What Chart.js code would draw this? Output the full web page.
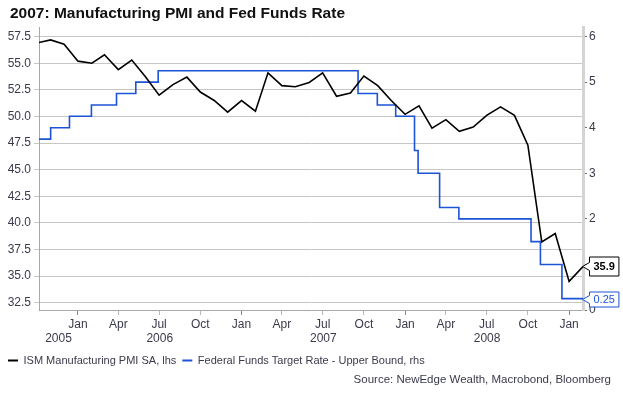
<!DOCTYPE html>
<html>
<head>
<meta charset="utf-8">
<title>Manufacturing PMI and Fed Funds Rate</title>
<script src="https://cdn.jsdelivr.net/npm/chart.js@4.4.1/dist/chart.umd.min.js"></script>
<style>
  html, body { margin: 0; padding: 0; background: #fff; }
  #wrap { width: 623px; height: 395px; position: relative; }
</style>
</head>
<body>
<div id="wrap"><canvas id="pmiChart"></canvas></div>
<script>
// ISM Manufacturing PMI, monthly
var pmiMonths = [
    '2005-10', '2005-11', '2005-12',
    '2006-01', '2006-02', '2006-03', '2006-04', '2006-05', '2006-06',
    '2006-07', '2006-08', '2006-09', '2006-10', '2006-11', '2006-12',
    '2007-01', '2007-02', '2007-03', '2007-04', '2007-05', '2007-06',
    '2007-07', '2007-08', '2007-09', '2007-10', '2007-11', '2007-12',
    '2008-01', '2008-02', '2008-03', '2008-04', '2008-05', '2008-06',
    '2008-07', '2008-08', '2008-09', '2008-10', '2008-11', '2008-12',
    '2009-01', '2009-02'
];
var pmiValues = [
    56.9, 57.2, 56.8,
    55.2, 55.0, 55.8, 54.4, 55.3, 53.7,
    52.0, 53.0, 53.7, 52.3, 51.5, 50.4,
    51.5, 50.5, 54.1, 52.9, 52.8, 53.2,
    54.1, 51.9, 52.2, 53.8, 52.9, 51.5,
    50.2, 51.0, 48.9, 49.7, 48.6, 49.0,
    50.1, 50.9, 50.1, 47.3, 38.2, 39.0,
    34.5, 35.9
];

// Fed funds target rate (upper bound), date of each change
var fedDates = [
    '2005-09-20', '2005-11-01', '2005-12-13', '2006-01-31', '2006-03-28',
    '2006-05-10', '2006-06-29', '2007-09-18', '2007-10-31', '2007-12-11',
    '2008-01-22', '2008-01-30', '2008-03-18', '2008-04-30', '2008-10-08',
    '2008-10-29', '2008-12-16', '2009-02-01'
];
var fedRates = [
    3.75, 4.0, 4.25, 4.5, 4.75,
    5.0, 5.25, 4.75, 4.5, 4.25,
    3.5, 3.0, 2.25, 2.0, 1.5,
    1.0, 0.25, 0.25
];

// axes
var xStart = '2005-10-06';
var xEnd = '2009-02-01';
var quarterTicks = [
    '2006-01', '2006-04', '2006-07', '2006-10',
    '2007-01', '2007-04', '2007-07', '2007-10',
    '2008-01', '2008-04', '2008-07', '2008-10',
    '2009-01'
];
var quarterNames = ['Jan', 'Apr', 'Jul', 'Oct'];
var yearLabels = ['2005', '2006', '2007', '2008'];
var leftTicks = [32.5, 35.0, 37.5, 40.0, 42.5, 45.0, 47.5, 50.0, 52.5, 55.0, 57.5];
var rightTicks = [0, 1, 2, 3, 4, 5, 6];

var sourceText = 'Source: NewEdge Wealth, Macrobond, Bloomberg';

function toDay(s) {
    var p = s.split('-');
    return Date.UTC(+p[0], +p[1] - 1, +(p[2] || 1)) / 864e5;
}

var textColor = '#3a3a4c';
var fontFamily = '"Liberation Sans", Arial, sans-serif';
Chart.defaults.font.family = fontFamily;

// move title / legend to where the original has them
var layoutTweaks = {
    id: 'layoutTweaks',
    afterLayout: function(chart) {
        chart.titleBlock.left = 10;
        chart.legend.left = 2;
        chart.legend.top = 361 - chart.legend.options.labels.padding - 6;
    }
};

// year row under the month ticks + source note
var extraText = {
    id: 'extraText',
    afterDraw: function(chart) {
        var ctx = chart.ctx;
        var x = chart.scales.x;
        ctx.save();
        ctx.fillStyle = textColor;
        ctx.font = '12px ' + fontFamily;
        ctx.textAlign = 'center';
        ctx.textBaseline = 'middle';
        yearLabels.forEach(function(yr) {
            var a = Math.max(toDay(yr + '-01-01'), x.min);
            var b = Math.min(toDay((+yr + 1) + '-01-01'), x.max);
            ctx.fillText(yr, (x.getPixelForValue(a) + x.getPixelForValue(b)) / 2, x.top + 29);
        });
        ctx.font = '11.5px ' + fontFamily;
        ctx.textAlign = 'right';
        ctx.fillText(sourceText, 611, 380);
        ctx.restore();
    }
};

// boxed value at the end of each line
var endLabels = {
    id: 'endLabels',
    afterDatasetsDraw: function(chart) {
        var ctx = chart.ctx;
        chart.data.datasets.forEach(function(ds, i) {
            var meta = chart.getDatasetMeta(i);
            var pt = meta.data[meta.data.length - 1];
            var txt = String(ds.data[ds.data.length - 1].y);
            var tipX = Math.round(pt.x) - 0.5;
            var y = Math.round(pt.y) + 0.5;
            var bx = tipX + 7;
            var h = ds.endLabel.h;
            ctx.save();
            ctx.font = (ds.endLabel.bold ? 'bold ' : '') + '11px ' + fontFamily;
            var w = ctx.measureText(txt).width + 8;
            ctx.beginPath();
            ctx.moveTo(bx, y - h / 2);
            ctx.lineTo(bx + w, y - h / 2);
            ctx.lineTo(bx + w, y + h / 2);
            ctx.lineTo(bx, y + h / 2);
            ctx.lineTo(bx, y + 4);
            ctx.lineTo(tipX, y);
            ctx.lineTo(bx, y - 4);
            ctx.closePath();
            ctx.fillStyle = '#fff';
            ctx.fill();
            ctx.lineWidth = 1;
            ctx.strokeStyle = ds.borderColor;
            ctx.stroke();
            ctx.fillStyle = ds.borderColor;
            ctx.textAlign = 'left';
            ctx.textBaseline = 'middle';
            ctx.fillText(txt, bx + 4, y);
            ctx.restore();
        });
    }
};

var ctx = document.getElementById('pmiChart').getContext('2d');
var pmiChart = new Chart(ctx, {
    type: 'line',
    data: {
        datasets: [{
            label: 'ISM Manufacturing PMI SA, lhs',
            data: pmiMonths.map(function(m, i) { return { x: toDay(m), y: pmiValues[i] }; }),
            borderColor: '#000000',
            backgroundColor: '#000000',
            borderWidth: 1.6,
            pointRadius: 0,
            tension: 0,
            yAxisID: 'y',
            endLabel: { h: 19, bold: true }
        }, {
            label: 'Federal Funds Target Rate - Upper Bound, rhs',
            data: fedDates.map(function(d, i) { return { x: toDay(d), y: fedRates[i] }; }),
            borderColor: '#1d53d6',
            backgroundColor: '#1d53d6',
            borderWidth: 1.6,
            pointRadius: 0,
            stepped: true,
            yAxisID: 'y1',
            endLabel: { h: 15, bold: false }
        }]
    },
    options: {
        responsive: true,
        maintainAspectRatio: false,
        animation: false,
        layout: { padding: 0 },
        plugins: {
            title: {
                display: true,
                text: '2007: Manufacturing PMI and Fed Funds Rate',
                align: 'start',
                color: '#111111',
                font: { size: 15.5, weight: 'bold' },
                padding: { top: 4, bottom: 4.4 }
            },
            legend: {
                position: 'bottom',
                align: 'start',
                labels: {
                    boxWidth: 10,
                    boxHeight: 2,
                    padding: 6,
                    color: textColor,
                    font: { size: 11 },
                    generateLabels: function(chart) {
                        return Chart.defaults.plugins.legend.labels.generateLabels(chart).map(function(item) {
                            item.lineWidth = 0;
                            item.fillStyle = item.strokeStyle;
                            return item;
                        });
                    }
                }
            },
            tooltip: { enabled: false }
        },
        scales: {
            x: {
                type: 'linear',
                min: toDay(xStart),
                max: toDay(xEnd),
                afterBuildTicks: function(scale) {
                    scale.ticks = quarterTicks.map(function(q) { return { value: toDay(q) }; });
                },
                afterFit: function(scale) {
                    scale.height = 85 - scale.chart.legend.height;
                },
                ticks: {
                    autoSkip: false,
                    maxRotation: 0,
                    padding: 2,
                    color: textColor,
                    font: { size: 12 },
                    callback: function(v) {
                        return quarterNames[new Date(v * 864e5).getUTCMonth() / 3];
                    }
                },
                grid: {
                    drawOnChartArea: false,
                    tickLength: 5,
                    tickColor: function(c) {
                        if (!c.tick) return '#999';
                        return new Date(c.tick.value * 864e5).getUTCMonth() === 0 ? '#888888' : '#b8b8b8';
                    }
                },
                border: { color: '#a8a8a8' }
            },
            y: {
                position: 'left',
                min: 31.81,
                max: 58.41,
                afterBuildTicks: function(scale) {
                    scale.ticks = leftTicks.map(function(v) { return { value: v }; });
                },
                afterFit: function(scale) { scale.width = 39; },
                ticks: {
                    padding: 3,
                    color: textColor,
                    font: { size: 12 },
                    callback: function(v) { return v.toFixed(1); }
                },
                grid: { color: '#c6c6c6', tickLength: 5 },
                border: { color: '#a8a8a8' }
            },
            y1: {
                position: 'right',
                min: 0,
                max: 6.21,
                afterBuildTicks: function(scale) {
                    scale.ticks = rightTicks.map(function(v) { return { value: v }; });
                },
                afterFit: function(scale) { scale.width = 40; },
                ticks: {
                    padding: 2,
                    color: textColor,
                    font: { size: 12 }
                },
                grid: { drawOnChartArea: false, tickLength: 4, tickColor: '#707070' },
                border: { color: '#d4d4d4', width: 3 }
            }
        }
    },
    plugins: [layoutTweaks, extraText, endLabels]
});
</script>
</body>
</html>
